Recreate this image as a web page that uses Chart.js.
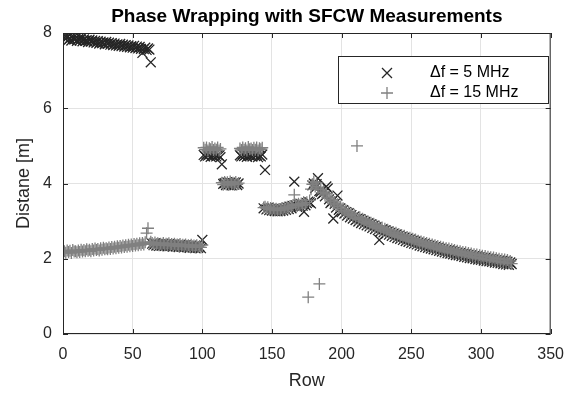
<!DOCTYPE html>
<html lang="en">
<head>
<meta charset="UTF-8" />
<title>Phase Wrapping with SFCW Measurements</title>
<script src="https://cdn.jsdelivr.net/npm/chart.js@4.4.1/dist/chart.umd.min.js"></script>
<style>
  html,body{margin:0;padding:0;background:#fff}
  canvas{display:block}
</style>
</head>
<body>
<canvas id="c" width="575" height="394"></canvas>
<script>
const dist5MHz = [
  7.88, 7.84, 7.90, 7.82, 7.86, 7.80, 7.87, 7.83, 7.85, 7.79,
  7.84, 7.80, 7.86, 7.78, 7.83, 7.79, 7.81, 7.76, 7.82, 7.77,
  7.80, 7.75, 7.79, 7.74, 7.78, 7.72, 7.77, 7.73, 7.75, 7.70,
  7.76, 7.71, 7.74, 7.69, 7.73, 7.68, 7.72, 7.67, 7.70, 7.66,
  7.71, 7.65, 7.69, 7.64, 7.68, 7.63, 7.67, 7.62, 7.65, 7.61,
  7.66, 7.60, 7.64, 7.59, 7.63, 7.58, 7.47, 7.57, 7.61, 7.55,
  7.59, 7.56, 7.22, 2.40, 2.36, 2.41, 2.35, 2.39, 2.34, 2.38,
  2.35, 2.40, 2.34, 2.38, 2.33, 2.39, 2.34, 2.37, 2.32, 2.38,
  2.33, 2.36, 2.31, 2.37, 2.32, 2.35, 2.30, 2.36, 2.31, 2.34,
  2.29, 2.35, 2.30, 2.33, 2.28, 2.34, 2.29, 2.32, 2.28, 2.50,
  4.76, 4.72, 4.78, 4.74, 4.77, 4.71, 4.75, 4.73, 4.79, 4.72,
  4.76, 4.74, 4.70, 4.51, 3.99, 4.01, 3.96, 4.03, 3.98, 4.02,
  3.95, 4.00, 3.97, 4.03, 3.96, 4.00, 4.75, 4.72, 4.78, 4.73,
  4.76, 4.71, 4.77, 4.74, 4.75, 4.72, 4.79, 4.73, 4.76, 4.70,
  4.74, 4.72, 4.77, 3.34, 4.36, 3.31, 3.35, 3.29, 3.33, 3.28,
  3.32, 3.27, 3.31, 3.26, 3.30, 3.27, 3.32, 3.28, 3.34, 3.30,
  3.36, 3.32, 3.38, 3.34, 3.40, 4.05, 3.42, 3.38, 3.44, 3.40,
  3.45, 3.41, 3.25, 3.42, 3.48, 3.52, 3.50, 3.47, 3.95, 4.00,
  3.88, 3.98, 4.14, 3.80, 3.78, 3.72, 3.75, 3.66, 3.92, 3.87,
  3.58, 3.48, 3.52, 3.07, 3.46, 3.36, 3.68, 3.30, 3.34, 3.24,
  3.29, 3.20, 3.24, 3.15, 3.21, 3.10, 3.16, 3.07, 3.12, 3.03,
  3.06, 2.99, 3.05, 2.95, 3.01, 2.92, 2.98, 2.89, 2.94, 2.86,
  2.91, 2.82, 2.88, 2.79, 2.84, 2.76, 2.50, 2.73, 2.78, 2.70,
  2.75, 2.67, 2.72, 2.64, 2.69, 2.61, 2.66, 2.58, 2.64, 2.55,
  2.61, 2.53, 2.58, 2.50, 2.56, 2.47, 2.53, 2.45, 2.51, 2.42,
  2.48, 2.40, 2.46, 2.38, 2.43, 2.35, 2.41, 2.33, 2.39, 2.31,
  2.37, 2.29, 2.35, 2.27, 2.33, 2.25, 2.31, 2.23, 2.29, 2.21,
  2.27, 2.19, 2.25, 2.17, 2.23, 2.15, 2.22, 2.14, 2.20, 2.12,
  2.18, 2.10, 2.16, 2.09, 2.15, 2.07, 2.13, 2.05, 2.12, 2.04,
  2.10, 2.02, 2.09, 2.01, 2.07, 1.99, 2.06, 1.98, 2.04, 1.97,
  2.03, 1.95, 2.02, 1.94, 2.00, 1.93, 1.99, 1.92, 1.98, 1.90,
  1.96, 1.89, 1.95, 1.88, 1.94, 1.86, 1.93, 1.85, 1.92, 1.84,
  1.90, 1.86
];

const dist15MHz = [
  2.20, 2.16, 2.22, 2.18, 2.21, 2.15, 2.23, 2.19, 2.20, 2.17,
  2.22, 2.18, 2.24, 2.19, 2.23, 2.20, 2.25, 2.21, 2.24, 2.20,
  2.26, 2.22, 2.27, 2.23, 2.26, 2.22, 2.28, 2.24, 2.29, 2.25,
  2.28, 2.25, 2.30, 2.26, 2.31, 2.27, 2.32, 2.28, 2.33, 2.29,
  2.34, 2.30, 2.35, 2.31, 2.36, 2.32, 2.37, 2.33, 2.38, 2.34,
  2.39, 2.35, 2.40, 2.36, 2.41, 2.37, 2.42, 2.38, 2.44, 2.68,
  2.81, 2.40, 2.45, 2.42, 2.38, 2.43, 2.37, 2.41, 2.36, 2.40,
  2.37, 2.42, 2.36, 2.40, 2.35, 2.41, 2.36, 2.39, 2.34, 2.40,
  2.35, 2.38, 2.33, 2.39, 2.34, 2.37, 2.32, 2.38, 2.33, 2.36,
  2.31, 2.37, 2.32, 2.35, 2.30, 2.36, 2.31, 2.34, 2.30, 2.36,
  4.95, 4.90, 4.96, 4.88, 4.94, 4.91, 4.97, 4.89, 4.93, 4.90,
  4.96, 4.88, 4.92, 4.02, 3.97, 4.04, 3.98, 4.03, 3.96, 4.05,
  3.99, 4.02, 3.97, 4.04, 3.98, 4.01, 4.93, 4.89, 4.96, 4.90,
  4.94, 4.88, 4.97, 4.91, 4.93, 4.89, 4.95, 4.90, 4.96, 4.88,
  4.94, 4.91, 4.95, 3.36, 3.38, 3.33, 3.37, 3.31, 3.35, 3.30,
  3.34, 3.29, 3.33, 3.28, 3.32, 3.29, 3.34, 3.30, 3.36, 3.32,
  3.38, 3.34, 3.40, 3.36, 3.42, 3.70, 3.44, 3.40, 3.46, 3.42,
  3.47, 3.43, 3.48, 3.44, 3.50, 0.98, 3.55, 3.85, 3.98, 4.05,
  3.92, 4.02, 3.88, 1.33, 3.84, 3.76, 3.80, 3.70, 3.74, 3.62,
  3.64, 3.53, 3.57, 3.46, 3.51, 3.40, 3.45, 3.34, 3.39, 3.28,
  3.34, 3.24, 3.29, 3.19, 3.25, 3.15, 3.21, 3.11, 3.17, 3.07,
  5.00, 3.04, 3.10, 3.00, 3.06, 2.96, 3.03, 2.93, 2.99, 2.90,
  2.96, 2.86, 2.93, 2.83, 2.89, 2.80, 2.86, 2.77, 2.83, 2.74,
  2.80, 2.71, 2.77, 2.68, 2.74, 2.65, 2.71, 2.62, 2.69, 2.59,
  2.66, 2.57, 2.63, 2.54, 2.61, 2.51, 2.58, 2.49, 2.56, 2.46,
  2.53, 2.44, 2.51, 2.42, 2.48, 2.39, 2.46, 2.37, 2.44, 2.35,
  2.42, 2.33, 2.40, 2.31, 2.38, 2.29, 2.36, 2.27, 2.34, 2.25,
  2.32, 2.23, 2.30, 2.21, 2.28, 2.19, 2.27, 2.18, 2.25, 2.16,
  2.23, 2.14, 2.21, 2.13, 2.20, 2.11, 2.18, 2.09, 2.17, 2.08,
  2.15, 2.06, 2.14, 2.05, 2.12, 2.03, 2.11, 2.02, 2.09, 2.01,
  2.08, 1.99, 2.07, 1.98, 2.05, 1.97, 2.04, 1.96, 2.03, 1.94,
  2.01, 1.93, 2.00, 1.92, 1.99, 1.90, 1.98, 1.89, 1.97, 1.88,
  1.94, 1.87
];

const rows = dist5MHz.map((_, i) => i + 1);
const xTicks = [0, 50, 100, 150, 200, 250, 300, 350];
const yTicks = [0, 2, 4, 6, 8];
const labels = ['\u0394f = 5 MHz', '\u0394f = 15 MHz'];

const FONT = '"Liberation Sans", Arial, Helvetica, sans-serif';
const AXIS = '#262626';
const DARK = '#262626';
const GREY = '#808080';

// title, axis labels, box, inward ticks and legend (MATLAB look)
const decor = {
  id: 'decor',
  afterDraw(chart) {
    const { ctx, chartArea: a, scales } = chart;
    ctx.save();
    ctx.strokeStyle = AXIS;
    ctx.lineWidth = 1;
    ctx.strokeRect(a.left + 0.5, a.top + 0.5, a.right - a.left - 1, a.bottom - a.top - 1);
    ctx.beginPath();
    for (const v of xTicks) {
      const x = Math.round(scales.x.getPixelForValue(v)) + 0.5;
      ctx.moveTo(x, a.bottom); ctx.lineTo(x, a.bottom - 5);
      ctx.moveTo(x, a.top); ctx.lineTo(x, a.top + 5);
    }
    for (const v of yTicks) {
      const y = Math.round(scales.y.getPixelForValue(v)) + 0.5;
      ctx.moveTo(a.left, y); ctx.lineTo(a.left + 5, y);
      ctx.moveTo(a.right, y); ctx.lineTo(a.right - 5, y);
    }
    ctx.stroke();

    ctx.fillStyle = '#000';
    ctx.textAlign = 'center';
    ctx.textBaseline = 'middle';
    const cx = (a.left + a.right) / 2;
    ctx.font = 'bold 19px ' + FONT;
    ctx.fillText('Phase Wrapping with SFCW Measurements', cx, 17);
    ctx.fillStyle = AXIS;
    ctx.font = '18px ' + FONT;
    ctx.fillText('Row', cx, 381);
    ctx.save();
    ctx.translate(24, (a.top + a.bottom) / 2);
    ctx.rotate(-Math.PI / 2);
    ctx.fillText('Distane [m]', 0, 0);
    ctx.restore();

    // legend box
    const lx = 338, ly = 56, lw = 210, lh = 47;
    ctx.fillStyle = '#fff';
    ctx.fillRect(lx, ly, lw, lh);
    ctx.strokeStyle = AXIS;
    ctx.strokeRect(lx + 0.5, ly + 0.5, lw, lh);
    ctx.lineWidth = 1.3;
    ctx.strokeStyle = DARK;
    ctx.beginPath();
    ctx.moveTo(382, 68); ctx.lineTo(392, 78);
    ctx.moveTo(392, 68); ctx.lineTo(382, 78);
    ctx.stroke();
    ctx.strokeStyle = GREY;
    ctx.beginPath();
    ctx.moveTo(381, 93); ctx.lineTo(393, 93);
    ctx.moveTo(387, 87); ctx.lineTo(387, 99);
    ctx.stroke();
    ctx.fillStyle = '#000';
    ctx.textAlign = 'left';
    ctx.font = '16px ' + FONT;
    ctx.fillText(labels[0], 430, 73);
    ctx.fillText(labels[1], 430, 93);
    ctx.restore();
  }
};

new Chart(document.getElementById('c'), {
  type: 'scatter',
  data: {
    datasets: [
      {
        label: labels[0],
        data: rows.map((r, i) => ({ x: r, y: dist5MHz[i] })),
        pointStyle: 'crossRot',
        pointRadius: 7,
        borderColor: DARK,
        backgroundColor: DARK,
        pointBorderWidth: 1.3,
        order: 1
      },
      {
        label: labels[1],
        data: rows.map((r, i) => ({ x: r, y: dist15MHz[i] })),
        pointStyle: 'cross',
        pointRadius: 6,
        borderColor: GREY,
        backgroundColor: GREY,
        pointBorderWidth: 1.3,
        order: 0
      }
    ]
  },
  options: {
    responsive: false,
    animation: false,
    devicePixelRatio: 1,
    layout: { padding: { top: 33, right: 24, left: 0, bottom: 0 } },
    plugins: { legend: { display: false }, title: { display: false }, tooltip: { enabled: false } },
    scales: {
      x: {
        type: 'linear', min: 0, max: 350,
        afterFit: s => { s.height = 60; },
        afterBuildTicks: s => { s.ticks = xTicks.map(v => ({ value: v })); },
        grid: { color: '#e3e3e3', drawTicks: false },
        border: { display: false },
        ticks: { color: AXIS, font: { family: FONT, size: 16 }, padding: 11, maxRotation: 0 }
      },
      y: {
        type: 'linear', min: 0, max: 8,
        afterFit: s => { s.width = 63; },
        afterBuildTicks: s => { s.ticks = yTicks.map(v => ({ value: v })); },
        grid: { color: '#e3e3e3', drawTicks: false },
        border: { display: false },
        ticks: { color: AXIS, font: { family: FONT, size: 16 }, padding: 11 }
      }
    }
  },
  plugins: [decor]
});
</script>
</body>
</html>
